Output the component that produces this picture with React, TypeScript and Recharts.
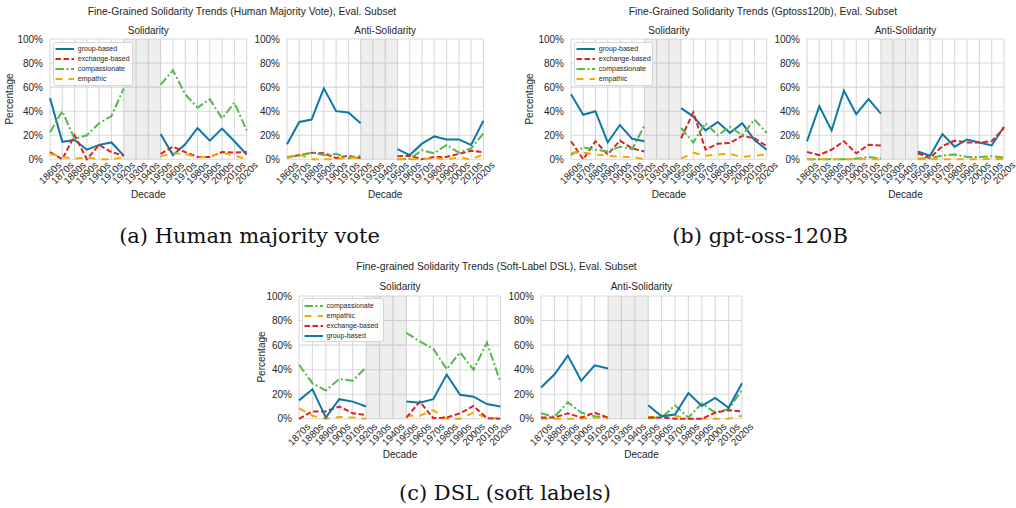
import React from 'react';
import { LineChart, Line, XAxis, YAxis, CartesianGrid, ReferenceArea, Legend } from 'recharts';

// ---------- categories ----------
const decadesAB = ['1860s', '1870s', '1880s', '1890s', '1900s', '1910s', '1920s', '1930s', '1940s', '1950s', '1960s', '1970s', '1980s', '1990s', '2000s', '2010s', '2020s'];
const decadesC = ['1870s', '1880s', '1890s', '1900s', '1910s', '1920s', '1930s', '1940s', '1950s', '1960s', '1970s', '1980s', '1990s', '2000s', '2010s', '2020s'];
const yTicks = [0, 20, 40, 60, 80, 100];

// ---------- (a) Human majority vote ----------
const humanSolGroup = [51, 14.5, 16, 8, 12, 14, 3, null, null, 21, 3.5, 12.5, 26, 15.5, 25.5, 15, 4];
const humanSolExchange = [6, 0, 20, 0, 12, 6, 3, null, null, 4.5, 10.5, 6, 2, 2, 6, 5.5, 6];
const humanSolCompassionate = [22.5, 40, 17, 20, 30, 36, 59, null, null, 62, 74, 54, 43, 50, 34, 47, 24];
const humanSolEmpathic = [4.5, 2, 0.5, 1.5, 0, 0, 1.5, null, null, 2.5, 5, 4.5, 1.5, 2, 5.5, 3, 0];

const humanAntiGroup = [12.5, 31, 33, 59, 40, 39, 30, null, null, 8.5, 3.5, 13, 19, 16.5, 16.5, 12, 32];
const humanAntiExchange = [1.5, 3.5, 5.5, 5, 1, 3, 1, null, null, 2.5, 3, 0, 2, 2, 4.5, 7, 6];
const humanAntiCompassionate = [2, 3, 5.5, 3.5, 4.5, 1, 3, null, null, 0, 0.5, 7.5, 5, 12, 5.5, 9, 21.5];
const humanAntiEmpathic = [1, 4, 0, 0, 0, 1.5, 1, null, null, 0, 0, 0, 1, 0, 1.5, 0, 4];

// ---------- (b) gpt-oss-120B ----------
const gptSolGroup = [54, 37, 40, 14, 28.5, 17, 15, null, null, 42.5, 35.5, 24, 31, 22, 30, 16, 8];
const gptSolExchange = [15, 0, 15, 4, 15.5, 9, 6.5, null, null, 17.5, 39, 8, 13, 13.5, 19.5, 17.5, 11];
const gptSolCompassionate = [3.5, 10, 8, 6.5, 10.5, 8.5, 28, null, null, 26, 14, 30, 20, 27, 20, 33, 22];
const gptSolEmpathic = [5.5, 5.5, 4, 3, 2, 2, 0, null, null, 0.5, 5.5, 3, 4, 4.5, 2, 3, 4];

const gptAntiGroup = [15, 44, 24, 57, 37.5, 50, 38, null, null, 6.5, 3, 21, 10.5, 16.5, 14, 11.5, 27];
const gptAntiExchange = [6, 3.5, 8, 15, 5, 12, 11.5, null, null, 5, 1, 11, 15.5, 14, 14, 15, 26];
const gptAntiCompassionate = [0, 0, 0, 0, 0.5, 2, 0.5, null, null, 0.5, 1, 3, 4, 2, 2, 2.5, 1.5];
const gptAntiEmpathic = [0, 0, 0, 0, 0, 0, 0, null, null, 0, 0, 0, 0, 0, 0, 0.5, 0];

// ---------- (c) DSL (soft labels) ----------
const dslSolCompassionate = [44, 29, 23, 32.5, 31, 42, null, null, 70, 63, 57, 40.5, 54, 40, 62, 30];
const dslSolEmpathic = [8.5, 2.5, 0, 1.5, 1, 0, null, null, 2.5, 2.5, 7, 0, 0, 5, 1, 0];
const dslSolExchange = [0, 6, 6, 10, 4.5, 3, null, null, 1, 14, 0.5, 1, 4.5, 10.5, 0.5, 0];
const dslSolGroup = [15, 24, 1, 16, 14, 10, null, null, 14, 13, 16, 36, 19.5, 18, 12, 10];

const dslAntiCompassionate = [4.5, 1.5, 13.5, 5, 2, 1, null, null, 0.5, 1, 11, 1, 12.5, 5, 8, 23.5];
const dslAntiEmpathic = [0, 0, 0, 0, 1, 0, null, null, 1, 2.5, 2.5, 0, 0, 0, 0, 2.5];
const dslAntiExchange = [1, 1, 4.5, 1, 5, 1, null, null, 1, 1, 0, 0, 0, 5, 7, 6];
const dslAntiGroup = [25.5, 36, 51.5, 31, 43.5, 41, null, null, 11, 2, 3.5, 21, 10.5, 17, 9, 29];

// ---------- styles ----------
type Key = 'group' | 'exchange' | 'compassionate' | 'empathic';
const COLORS: Record<Key, string> = { group: '#0b78a8', exchange: '#dc2222', compassionate: '#55b84b', empathic: '#f5a800' };
const DASH: Record<Key, string | undefined> = { group: undefined, exchange: '5.5 2.5', compassionate: '8.5 2.5 2 2.5', empathic: '7 6' };
const LABELS: Record<Key, string> = { group: 'group-based', exchange: 'exchange-based', compassionate: 'compassionate', empathic: 'empathic' };
const FONT = '"Liberation Sans", Arial, Helvetica, sans-serif';
const TXT = '#262626';
const GRID = '#d9d9d9';

type Series = Record<Key, (number | null)[]>;
const buildRows = (decades: string[], s: Series) =>
  decades.map((d, i) => ({ decade: d, group: s.group[i], exchange: s.exchange[i], compassionate: s.compassionate[i], empathic: s.empathic[i] }));

const orderAB: Key[] = ['group', 'exchange', 'compassionate', 'empathic'];
const orderC: Key[] = ['compassionate', 'empathic', 'exchange', 'group'];

const LegendBox = ({ order, width }: { order: Key[]; width: number }) => (
  <div style={{ width, height: 44, boxSizing: 'border-box', border: '1px solid #d6d6d6', borderRadius: 3, background: 'rgba(255,255,255,0.85)', paddingTop: 1.5, fontFamily: FONT, fontSize: 7, color: TXT }}>
    {order.map((k) => (
      <div key={k} style={{ display: 'flex', alignItems: 'center', height: 10 }}>
        <svg width={22} height={10} style={{ display: 'block' }}>
          <line x1={1.5} x2={20} y1={5} y2={5} stroke={COLORS[k]} strokeWidth={2} strokeDasharray={DASH[k]} />
        </svg>
        <span style={{ marginLeft: 1.5, lineHeight: '10px', whiteSpace: 'nowrap' }}>{LABELS[k]}</span>
      </div>
    ))}
  </div>
);

const XTick = (props: any) => {
  const { x, y, payload, off } = props;
  return (
    <g transform={`translate(${x},${y + off})`}>
      <text transform="rotate(-45)" textAnchor="middle" dominantBaseline="central" fontSize={9.8} fill={TXT} fontFamily={FONT}>
        {payload.value}
      </text>
    </g>
  );
};

type PanelProps = {
  rows: any[];
  plotLeft: number;
  plotTop: number;
  plotW: number;
  plotH: number;
  order: Key[];
  legend?: { dx: number; dy: number; width: number };
  tickOff: number;
};

const YW = 45;
const MT = 5;
const MR = 14;
const XH = 40;

const Panel = ({ rows, plotLeft, plotTop, plotW, plotH, order, legend, tickOff }: PanelProps) => {
  const w = YW + plotW + MR;
  const h = MT + plotH + XH;
  return (
    <div style={{ position: 'absolute', left: plotLeft - YW, top: plotTop - MT }}>
      <LineChart width={w} height={h} data={rows} margin={{ top: MT, right: MR, bottom: 0, left: 0 }}>
        <CartesianGrid stroke={GRID} strokeWidth={1.1} />
        <XAxis
          dataKey="decade"
          type="category"
          scale="point"
          padding={{ left: 0, right: 0 }}
          interval={0}
          height={XH}
          axisLine={false}
          tickLine={false}
          tickSize={0}
          tickMargin={0}
          tick={<XTick off={tickOff} />}
        />
        <YAxis
          type="number"
          domain={[0, 100]}
          ticks={yTicks}
          interval={0}
          width={YW}
          axisLine={false}
          tickLine={false}
          tickSize={5}
          tickMargin={2}
          tickFormatter={(v: number) => `${v}%`}
          tick={{ fontSize: 10, fill: TXT, fontFamily: FONT }}
        />
        <ReferenceArea x1="1920s" x2="1950s" fill="#777777" fillOpacity={0.12} stroke="none" ifOverflow="visible" />
        {order.map((k) => (
          <Line
            key={k}
            dataKey={k}
            type="linear"
            stroke={COLORS[k]}
            strokeWidth={2}
            strokeDasharray={DASH[k]}
            dot={false}
            activeDot={false}
            connectNulls={false}
            isAnimationActive={false}
          />
        ))}
        {legend && (
          <Legend
            layout="vertical"
            align="center"
            verticalAlign="middle"
            wrapperStyle={{ left: YW + legend.dx, top: MT + legend.dy, width: 'auto', height: 'auto' }}
            content={() => <LegendBox order={order} width={legend.width} />}
          />
        )}
      </LineChart>
    </div>
  );
};

const Label = ({ x, y, text, size, rotate, family, color }: { x: number; y: number; text: string; size: number; rotate?: boolean; family?: string; color?: string }) => (
  <div
    style={{
      position: 'absolute',
      left: x,
      top: y,
      transform: `translate(-50%, -50%)${rotate ? ' rotate(-90deg)' : ''}`,
      fontSize: size,
      fontFamily: family || FONT,
      color: color || TXT,
      whiteSpace: 'nowrap',
      lineHeight: 1,
    }}
  >
    {text}
  </div>
);

export default function App() {
  const aSol = buildRows(decadesAB, { group: humanSolGroup, exchange: humanSolExchange, compassionate: humanSolCompassionate, empathic: humanSolEmpathic });
  const aAnti = buildRows(decadesAB, { group: humanAntiGroup, exchange: humanAntiExchange, compassionate: humanAntiCompassionate, empathic: humanAntiEmpathic });
  const bSol = buildRows(decadesAB, { group: gptSolGroup, exchange: gptSolExchange, compassionate: gptSolCompassionate, empathic: gptSolEmpathic });
  const bAnti = buildRows(decadesAB, { group: gptAntiGroup, exchange: gptAntiExchange, compassionate: gptAntiCompassionate, empathic: gptAntiEmpathic });
  const cSol = buildRows(decadesC, { group: dslSolGroup, exchange: dslSolExchange, compassionate: dslSolCompassionate, empathic: dslSolEmpathic });
  const cAnti = buildRows(decadesC, { group: dslAntiGroup, exchange: dslAntiExchange, compassionate: dslAntiCompassionate, empathic: dslAntiEmpathic });

  const capFont = '"DejaVu Serif", "Liberation Serif", serif';
  const capSize = 21;
  const supSize = 10.3;

  return (
    <div style={{ position: 'absolute', left: 0, top: 0, width: 1016, height: 508, background: '#ffffff', overflow: 'hidden' }}>
      {/* (a) */}
      <Label x={242} y={12} text="Fine-Grained Solidarity Trends (Human Majority Vote), Eval. Subset" size={supSize} />
      <Label x={148.3} y={31} text="Solidarity" size={10} />
      <Label x={385.2} y={31} text="Anti-Solidarity" size={10} />
      <Label x={9.5} y={98.5} text="Percentage" size={10} rotate />
      <Label x={148.3} y={194.5} text="Decade" size={10} />
      <Label x={385.2} y={194.5} text="Decade" size={10} />
      <Panel rows={aSol} plotLeft={50} plotTop={38.5} plotW={196.7} plotH={120.3} order={orderAB} legend={{ dx: 3.3, dy: 3, width: 80 }} tickOff={13.5} />
      <Panel rows={aAnti} plotLeft={287} plotTop={38.5} plotW={196.4} plotH={120.3} order={orderAB} tickOff={13.5} />
      <Label x={249.5} y={236} text="(a) Human majority vote" size={capSize} family={capFont} color="#111" />

      {/* (b) */}
      <Label x={763} y={12} text="Fine-Grained Solidarity Trends (Gptoss120b), Eval. Subset" size={supSize} />
      <Label x={668.9} y={31} text="Solidarity" size={10} />
      <Label x={905.5} y={31} text="Anti-Solidarity" size={10} />
      <Label x={530} y={98.5} text="Percentage" size={10} rotate />
      <Label x={668.9} y={194.5} text="Decade" size={10} />
      <Label x={905.5} y={194.5} text="Decade" size={10} />
      <Panel rows={bSol} plotLeft={571} plotTop={38.5} plotW={195.7} plotH={120.3} order={orderAB} legend={{ dx: 3.3, dy: 3, width: 79 }} tickOff={13.5} />
      <Panel rows={bAnti} plotLeft={807} plotTop={38.5} plotW={197} plotH={120.3} order={orderAB} tickOff={13.5} />
      <Label x={760} y={236} text="(b) gpt-oss-120B" size={capSize} family={capFont} color="#111" />

      {/* (c) */}
      <Label x={496.5} y={266.7} text="Fine-grained Solidarity Trends (Soft-Label DSL), Eval. Subset" size={supSize} />
      <Label x={400} y={287} text="Solidarity" size={10} />
      <Label x={641.5} y={287} text="Anti-Solidarity" size={10} />
      <Label x={262} y={357} text="Percentage" size={10} rotate />
      <Label x={400} y={454.5} text="Decade" size={10} />
      <Label x={641.5} y={454.5} text="Decade" size={10} />
      <Panel rows={cSol} plotLeft={299.3} plotTop={295.5} plotW={201.4} plotH={122.8} order={orderC} legend={{ dx: 2.7, dy: 2.8, width: 82 }} tickOff={15.5} />
      <Panel rows={cAnti} plotLeft={541} plotTop={295.5} plotW={201} plotH={122.8} order={orderC} tickOff={15.5} />
      <Label x={505} y={493} text="(c) DSL (soft labels)" size={capSize} family={capFont} color="#111" />
    </div>
  );
}
